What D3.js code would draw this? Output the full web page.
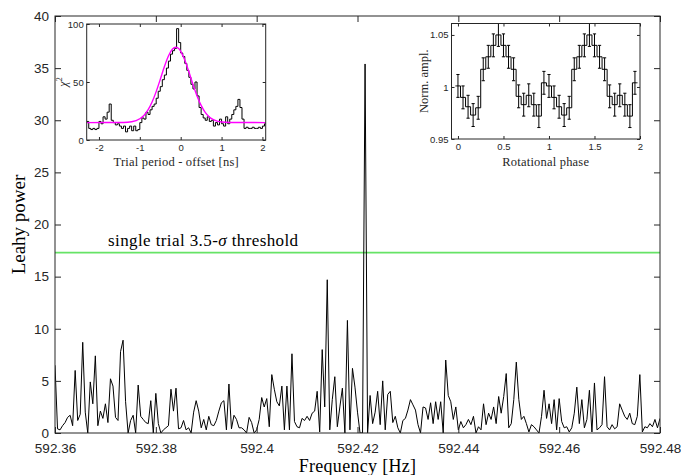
<!DOCTYPE html>
<html>
<head>
<meta charset="utf-8">
<script src="https://cdn.jsdelivr.net/npm/d3@7"></script>
<style>
  body { margin: 0; background: #fff; }
  svg { display: block; }
</style>
</head>
<body>
<div id="app"></div>
<script>
'use strict'

// main periodogram, one value every 0.0005 Hz starting at 592.36 Hz
const freqStart = 592.36
const freqStep = 0.0005
const leahyPower = [
  6.5, 0.4, 0.3, 0.7, 1.0, 1.5, 1.7, 0.7, 6.0, 1.2, 1.8, 8.7, 2.0, 0.0, 4.9, 2.8, 7.4, 0.7, 2.1, 1.4,
  2.8, 1.0, 5.2, 4.5, 1.5, 1.2, 7.8, 8.9, 3.0, 0.0, 1.2, 1.7, 0.0, 4.6, 1.6, 1.3, 1.0, 0.9, 3.1, 0.0,
  3.8, 0.9, 0.0, 0.3, 0.5, 0.7, 4.2, 2.1, 4.3, 0.4, 0.5, 1.2, 0.3, 0.5, 0.0, 2.0, 3.1, 2.1, 0.5, 1.3,
  0.3, 1.6, 0.8, 0.7, 1.2, 2.1, 2.9, 3.1, 0.3, 4.7, 0.4, 1.7, 1.3, 0.5, 0.5, 0.3, 0.0, 1.5, 1.0, 0.0,
  0.3, 1.3, 3.4, 2.5, 3.3, 0.6, 5.6, 4.2, 3.0, 2.6, 4.5, 0.3, 4.5, 0.3, 7.6, 1.1, 0.6, 0.5, 1.4, 1.2,
  1.6, 1.2, 1.9, 2.1, 4.0, 0.1, 8.0, 2.5, 14.7, 0.3, 3.2, 5.4, 0.6, 2.5, 4.3, 0.0, 10.8, 0.3, 6.2, 4.4,
  2.0, 0.0, 0.0, 35.4, 0.0, 3.6, 0.9, 2.0, 4.0, 0.8, 5.0, 0.3, 3.7, 4.0, 1.0, 1.6, 0.5, 0.0, 1.2, 1.4,
  2.2, 3.2, 2.7, 2.2, 0.8, 0.0, 2.5, 2.4, 1.3, 2.9, 0.9, 3.0, 1.3, 3.0, 0.0, 7.0, 3.6, 3.0, 1.3, 2.5,
  0.3, 1.1, 0.5, 0.8, 1.3, 0.8, 1.6, 0.0, 0.6, 0.3, 2.8, 0.8, 1.9, 1.3, 2.5, 0.9, 3.5, 1.9, 3.5, 5.7,
  0.5, 0.9, 3.2, 6.8, 3.2, 1.3, 1.6, 0.9, 0.1, 0.8, 0.6, 0.3, 0.0, 1.6, 4.1, 1.4, 2.8, 0.9, 3.2, 0.3,
  3.3, 1.1, 0.5, 0.6, 0.1, 0.5, 1.9, 4.4, 0.9, 3.2, 0.5, 1.3, 4.1, 0.1, 4.8, 0.3, 0.5, 0.8, 5.4, 0.6,
  0.3, 0.8, 0.4, 0.6, 2.8, 2.2, 1.6, 1.3, 1.9, 0.9, 0.8, 1.6, 5.6, 0.1, 0.6, 0.5, 0.9, 0.6, 1.3, 0.5,
  1.4
]
const threshold = 17.3
const freqTicks = [592.36, 592.38, 592.40, 592.42, 592.44, 592.46, 592.48]
const powerTicks = [0, 5, 10, 15, 20, 25, 30, 35, 40]

// inset 1: chi^2 versus trial period, bins of 0.05 ns from -2.3 ns
const chiStart = -2.3
const chiStep = 0.05
const chiSquare = [
  16, 10, 9, 10, 9, 10, 16, 14, 20, 18, 24, 31, 17, 15, 13, 14, 12, 10, 12, 7,
  10, 12, 8, 12, 8, 9, 15, 19, 18, 24, 22, 26, 29, 31, 36, 42, 46, 52, 56, 62,
  68, 74, 77, 79, 96, 84, 75, 72, 66, 60, 54, 48, 44, 50, 38, 28, 22, 19, 17, 20,
  16, 17, 12, 15, 13, 18, 14, 12, 20, 14, 18, 22, 26, 29, 35, 28, 18, 10, 11, 10,
  10, 11, 10, 10, 11, 10, 12, 14
]
const fitOffset = [-2.3, -1.4, -1.2, -1.0, -0.9, -0.8, -0.7, -0.6, -0.5, -0.4, -0.3, -0.2, -0.12,
  -0.05, 0.0, 0.1, 0.2, 0.3, 0.4, 0.5, 0.6, 0.7, 0.8, 1.0, 1.2, 2.08]
const fitChi = [15, 15.1, 15.7, 18.3, 21.2, 25.9, 32.7, 41.7, 52.2, 63.1, 72.4, 78.4, 80,
  78.8, 76.5, 68.9, 58.8, 47.9, 37.9, 29.8, 23.8, 19.9, 17.5, 15.5, 15.1, 15]
const chiXTicks = [-2, -1, 0, 1, 2]
const chiYTicks = [0, 50, 100]

// inset 2: folded pulse profile, 18 bins per cycle, shown twice
const profileBins = 18
const pulseProfile = [1.001, 0.990, 0.981, 0.973, 0.980, 1.017, 1.029, 1.040, 1.050,
  1.040, 1.029, 1.017, 0.991, 0.983, 0.992, 0.983, 0.972, 1.004]
const pulseError = 0.011
const phaseTicks = [0, 0.5, 1, 1.5, 2]
const amplTicks = [0.95, 1, 1.05]

const W = 681, H = 475
const axisColor = '#262626'
const sans = 'Liberation Sans, Arial, sans-serif'
const serif = 'Liberation Serif, Times New Roman, serif'

const svg = d3.select('#app').append('svg')
  .attr('width', W)
  .attr('height', H)

// draw box, inward ticks on all four sides and tick labels
const drawFrame = function (g, xs, ys, xt, yt, opts) {
  const xr = xs.range(), yr = ys.range()
  g.append('g')
    .attr('transform', 'translate(0,' + yr[0] + ')')
    .call(d3.axisBottom(xs).tickValues(xt).tickSize(-opts.tick).tickPadding(opts.padX).tickFormat(opts.fmtX))
  g.append('g')
    .attr('transform', 'translate(0,' + yr[1] + ')')
    .call(d3.axisTop(xs).tickValues(xt).tickSize(-opts.tick).tickFormat(''))
  g.append('g')
    .attr('transform', 'translate(' + xr[0] + ',0)')
    .call(d3.axisLeft(ys).tickValues(yt).tickSize(-opts.tick).tickPadding(opts.padY).tickFormat(opts.fmtY))
  g.append('g')
    .attr('transform', 'translate(' + xr[1] + ',0)')
    .call(d3.axisRight(ys).tickValues(yt).tickSize(-opts.tick).tickFormat(''))
  g.selectAll('.domain').remove()
  g.selectAll('.tick line').attr('stroke', axisColor)
  g.selectAll('.tick text')
    .attr('fill', axisColor)
    .attr('font-family', sans)
    .attr('font-size', opts.fontSize)
  g.append('rect')
    .attr('x', xr[0])
    .attr('y', yr[1])
    .attr('width', xr[1] - xr[0])
    .attr('height', yr[0] - yr[1])
    .attr('fill', 'none')
    .attr('stroke', axisColor)
    .attr('stroke-width', 1)
}

const addClip = function (id, xs, ys) {
  const xr = xs.range(), yr = ys.range()
  svg.append('clipPath').attr('id', id)
    .append('rect')
    .attr('x', xr[0]).attr('y', yr[1])
    .attr('width', xr[1] - xr[0]).attr('height', yr[0] - yr[1])
}

// ---------- main panel ----------
const x = d3.scaleLinear().domain([592.36, 592.48]).range([55, 660])
const y = d3.scaleLinear().domain([0, 40]).range([433, 16])
addClip('clip-main', x, y)

const mainG = svg.append('g')
mainG.append('line')
  .attr('x1', x(592.36)).attr('x2', x(592.48))
  .attr('y1', y(threshold)).attr('y2', y(threshold))
  .attr('stroke', '#66e366')
  .attr('stroke-width', 1.6)

mainG.append('path')
  .datum(leahyPower)
  .attr('clip-path', 'url(#clip-main)')
  .attr('fill', 'none')
  .attr('stroke', '#000')
  .attr('stroke-width', 1)
  .attr('stroke-linejoin', 'round')
  .attr('d', d3.line()
    .x(function (d, i) { return x(freqStart + i * freqStep) })
    .y(function (d) { return y(d) }))

const thr = mainG.append('text')
  .attr('x', 108)
  .attr('y', y(threshold) - 7)
  .attr('font-family', serif)
  .attr('font-size', 17)
  .attr('letter-spacing', 0.4)
  .attr('fill', '#000')
thr.append('tspan').text('single trial 3.5-')
thr.append('tspan').attr('font-style', 'italic').text('σ')
thr.append('tspan').text(' threshold')

drawFrame(mainG, x, y, freqTicks, powerTicks, {
  tick: 6, padX: 10, padY: 6, fontSize: 13.5,
  fmtX: function (d) { return String(+d.toFixed(2)) },
  fmtY: function (d) { return String(d) }
})

mainG.append('text')
  .attr('x', (x.range()[0] + x.range()[1]) / 2)
  .attr('y', 472)
  .attr('text-anchor', 'middle')
  .attr('font-family', serif)
  .attr('font-size', 18)
  .attr('letter-spacing', 0.3)
  .text('Frequency [Hz]')

mainG.append('text')
  .attr('transform', 'translate(25,' + ((y.range()[0] + y.range()[1]) / 2) + ') rotate(-90)')
  .attr('text-anchor', 'middle')
  .attr('font-family', serif)
  .attr('font-size', 19)
  .text('Leahy power')

// ---------- inset 1: chi^2 scan ----------
const cx = d3.scaleLinear().domain([-2.3, 2.08]).range([86.7, 265.7])
const cy = d3.scaleLinear().domain([0, 100]).range([140, 24])
addClip('clip-chi', cx, cy)

const chiG = svg.append('g')
chiG.append('rect')
  .attr('x', cx.range()[0]).attr('y', cy.range()[1])
  .attr('width', cx.range()[1] - cx.range()[0])
  .attr('height', cy.range()[0] - cy.range()[1])
  .attr('fill', '#fff')

const chiPoints = chiSquare.map(function (v, i) { return [chiStart + i * chiStep, v] })
chiPoints.push([chiStart + chiSquare.length * chiStep, chiSquare[chiSquare.length - 1]])

chiG.append('path')
  .datum(chiPoints)
  .attr('clip-path', 'url(#clip-chi)')
  .attr('fill', 'none')
  .attr('stroke', '#000')
  .attr('stroke-width', 1)
  .attr('d', d3.line().curve(d3.curveStepAfter)
    .x(function (d) { return cx(d[0]) })
    .y(function (d) { return cy(d[1]) }))

chiG.append('path')
  .datum(fitOffset.map(function (t, i) { return [t, fitChi[i]] }))
  .attr('clip-path', 'url(#clip-chi)')
  .attr('fill', 'none')
  .attr('stroke', '#ff00ff')
  .attr('stroke-width', 1.4)
  .attr('d', d3.line().curve(d3.curveMonotoneX)
    .x(function (d) { return cx(d[0]) })
    .y(function (d) { return cy(d[1]) }))

drawFrame(chiG, cx, cy, chiXTicks, chiYTicks, {
  tick: 3, padX: 4, padY: 3, fontSize: 9.5,
  fmtX: function (d) { return String(d) },
  fmtY: function (d) { return String(d) }
})

chiG.append('text')
  .attr('x', (cx.range()[0] + cx.range()[1]) / 2)
  .attr('y', 166)
  .attr('text-anchor', 'middle')
  .attr('font-family', serif)
  .attr('font-size', 12.5)
  .attr('letter-spacing', 0.2)
  .attr('fill', axisColor)
  .text('Trial period - offset [ns]')

const chiLab = chiG.append('text')
  .attr('transform', 'translate(67,' + ((cy.range()[0] + cy.range()[1]) / 2) + ') rotate(-90)')
  .attr('text-anchor', 'middle')
  .attr('font-family', serif)
  .attr('font-size', 12)
  .attr('fill', axisColor)
chiLab.append('tspan').attr('font-style', 'italic').text('χ')
chiLab.append('tspan').attr('font-size', 8).attr('dy', -5).text('2')

// ---------- inset 2: pulse profile ----------
const px = d3.scaleLinear().domain([-0.071, 2]).range([451.5, 640])
const py = d3.scaleLinear().domain([0.95, 1.061]).range([139, 23.5])
addClip('clip-prof', px, py)

const profG = svg.append('g')
profG.append('rect')
  .attr('x', px.range()[0]).attr('y', py.range()[1])
  .attr('width', px.range()[1] - px.range()[0])
  .attr('height', py.range()[0] - py.range()[1])
  .attr('fill', '#fff')

const binW = 1 / profileBins
const profile = pulseProfile.concat(pulseProfile).map(function (v, i) {
  return { phase: i * binW, value: v }
})
const stepPts = [[profile[0].phase - binW / 2, profile[0].value]]
  .concat(profile.map(function (d) { return [d.phase, d.value] }))
stepPts.push([profile[profile.length - 1].phase + binW / 2, profile[profile.length - 1].value])

profG.append('path')
  .datum(stepPts)
  .attr('clip-path', 'url(#clip-prof)')
  .attr('fill', 'none')
  .attr('stroke', '#000')
  .attr('stroke-width', 1)
  .attr('d', d3.line().curve(d3.curveStep)
    .x(function (d) { return px(d[0]) })
    .y(function (d) { return py(d[1]) }))

const bars = profG.append('g')
  .attr('clip-path', 'url(#clip-prof)')
  .attr('stroke', '#000')
  .attr('stroke-width', 1)
  .selectAll('g')
  .data(profile)
  .enter()
  .append('g')
bars.append('line')
  .attr('x1', function (d) { return px(d.phase) })
  .attr('x2', function (d) { return px(d.phase) })
  .attr('y1', function (d) { return py(d.value - pulseError) })
  .attr('y2', function (d) { return py(d.value + pulseError) })
bars.append('line')
  .attr('x1', function (d) { return px(d.phase) - 1.6 })
  .attr('x2', function (d) { return px(d.phase) + 1.6 })
  .attr('y1', function (d) { return py(d.value - pulseError) })
  .attr('y2', function (d) { return py(d.value - pulseError) })
bars.append('line')
  .attr('x1', function (d) { return px(d.phase) - 1.6 })
  .attr('x2', function (d) { return px(d.phase) + 1.6 })
  .attr('y1', function (d) { return py(d.value + pulseError) })
  .attr('y2', function (d) { return py(d.value + pulseError) })

drawFrame(profG, px, py, phaseTicks, amplTicks, {
  tick: 3, padX: 4, padY: 3, fontSize: 9.5,
  fmtX: function (d) { return String(d) },
  fmtY: function (d) { return String(d) }
})

profG.append('text')
  .attr('x', (px.range()[0] + px.range()[1]) / 2)
  .attr('y', 166)
  .attr('text-anchor', 'middle')
  .attr('font-family', serif)
  .attr('font-size', 12.5)
  .attr('letter-spacing', 0.2)
  .attr('fill', axisColor)
  .text('Rotational phase')

profG.append('text')
  .attr('transform', 'translate(428,' + ((py.range()[0] + py.range()[1]) / 2) + ') rotate(-90)')
  .attr('text-anchor', 'middle')
  .attr('font-family', serif)
  .attr('font-size', 12.5)
  .attr('fill', axisColor)
  .text('Norm. ampl.')
</script>
</body>
</html>
